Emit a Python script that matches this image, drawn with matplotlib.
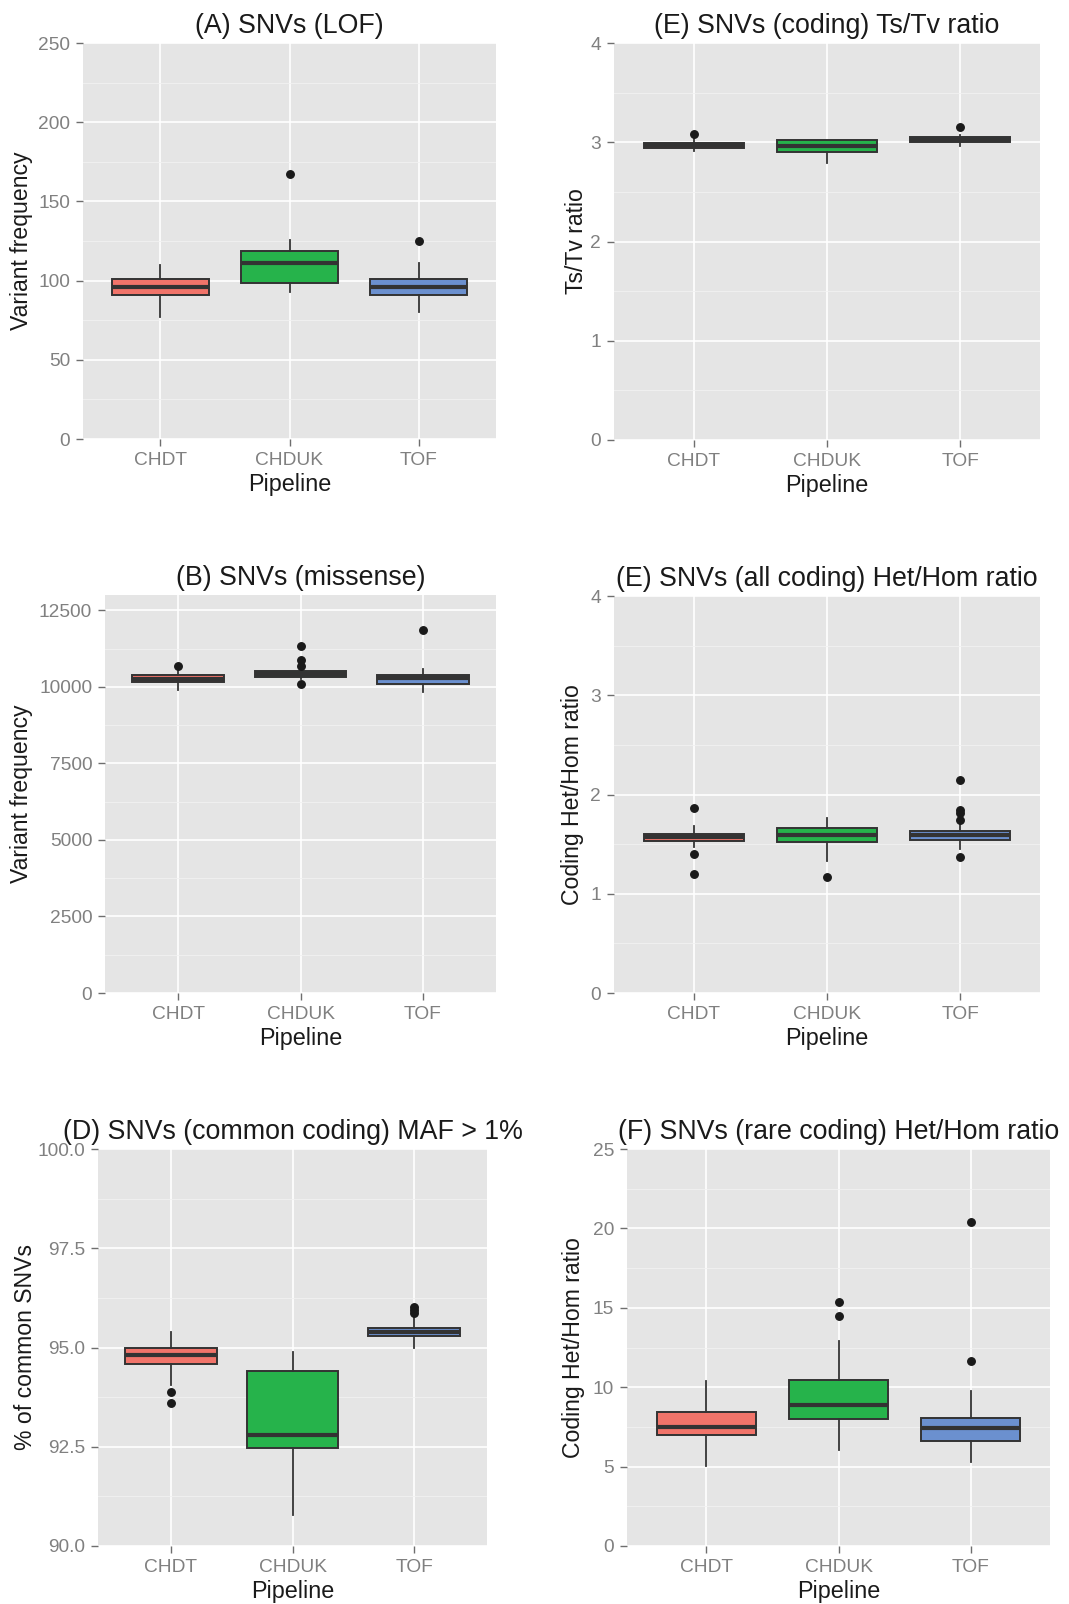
import matplotlib
matplotlib.use('Agg')
import matplotlib.pyplot as plt
import matplotlib.ticker as mticker

plt.rcParams['font.family'] = ['Liberation Sans', 'DejaVu Sans']

W, H = 1069, 1604
pipelines = ['CHDT', 'CHDUK', 'TOF']
fills = ['#F1746A', '#26B34B', '#6B90CF']

# per-panel box summaries: q1, median, q3, whisker low, whisker high, outliers
lof_q1 = [90.8, 98.7, 90.8]
lof_med = [95.8, 110.9, 96.2]
lof_q3 = [100.8, 118.5, 100.8]
lof_lo = [76.9, 93.1, 80.0]
lof_hi = [109.7, 125.6, 110.9]
lof_out = [[], [167.0], [125.0]]

tstv_q1 = [2.946, 2.903, 3.000]
tstv_med = [2.970, 2.963, 3.027]
tstv_q3 = [2.990, 3.020, 3.050]
tstv_lo = [2.910, 2.795, 2.960]
tstv_hi = [3.040, 3.020, 3.077]
tstv_out = [[3.087], [], [3.154]]

mis_q1 = [10144, 10329, 10089]
mis_med = [10264, 10417, 10297]
mis_q3 = [10384, 10504, 10373]
mis_lo = [9904, 10253, 9838]
mis_hi = [10504, 10558, 10591]
mis_out = [[10689], [11333, 10886, 10667, 10100], [11856]]

hh_q1 = [1.536, 1.519, 1.546]
hh_med = [1.570, 1.590, 1.590]
hh_q3 = [1.603, 1.664, 1.630]
hh_lo = [1.472, 1.331, 1.455]
hh_hi = [1.681, 1.768, 1.724]
hh_out = [[1.869, 1.398, 1.197], [1.166], [2.151, 1.842, 1.815, 1.748, 1.368]]

maf_q1 = [94.59, 92.46, 95.30]
maf_med = [94.80, 92.79, 95.40]
maf_q3 = [95.00, 94.415, 95.50]
maf_lo = [94.05, 90.79, 95.00]
maf_hi = [95.38, 94.88, 95.78]
maf_out = [[93.89, 93.59], [], [96.01, 95.95, 95.88]]

rare_q1 = [7.00, 8.00, 6.64]
rare_med = [7.52, 8.87, 7.42]
rare_q3 = [8.42, 10.46, 8.05]
rare_lo = [5.06, 6.07, 5.29]
rare_hi = [10.40, 12.92, 9.77]
rare_out = [[], [15.36, 14.47], [20.38, 11.66]]

# panel boxes in pixels: left, top, right, bottom; ylabel right edge
panels = [
    dict(px=(83, 43, 496, 439), ylab_x=33.5, title='(A) SNVs (LOF)',
         ylabel='Variant frequency', ylim=(0, 250), major=50,
         stats=(lof_q1, lof_med, lof_q3, lof_lo, lof_hi, lof_out), fmt='%d'),
    dict(px=(614, 43, 1040, 440), ylab_x=588, title='(E) SNVs (coding) Ts/Tv ratio',
         ylabel='Ts/Tv ratio', ylim=(0, 4), major=1,
         stats=(tstv_q1, tstv_med, tstv_q3, tstv_lo, tstv_hi, tstv_out), fmt='%d'),
    dict(px=(105, 595, 496, 993), ylab_x=33.5, title='(B) SNVs (missense)',
         ylabel='Variant frequency', ylim=(0, 13000), major=2500,
         stats=(mis_q1, mis_med, mis_q3, mis_lo, mis_hi, mis_out), fmt='%d'),
    dict(px=(614, 596, 1040, 993), ylab_x=584, title='(E) SNVs (all coding) Het/Hom ratio',
         ylabel='Coding Het/Hom ratio', ylim=(0, 4), major=1,
         stats=(hh_q1, hh_med, hh_q3, hh_lo, hh_hi, hh_out), fmt='%d'),
    dict(px=(98, 1149, 487, 1546), ylab_x=37, title='(D) SNVs (common coding) MAF > 1%',
         ylabel='% of common SNVs', ylim=(90, 100), major=2.5,
         stats=(maf_q1, maf_med, maf_q3, maf_lo, maf_hi, maf_out), fmt='%.1f'),
    dict(px=(627, 1149, 1050, 1546), ylab_x=585, title='(F) SNVs (rare coding) Het/Hom ratio',
         ylabel='Coding Het/Hom ratio', ylim=(0, 25), major=5,
         stats=(rare_q1, rare_med, rare_q3, rare_lo, rare_hi, rare_out), fmt='%d'),
]

fig = plt.figure(figsize=(W / 100, H / 100), dpi=100)
fig.patch.set_facecolor('white')

for p in panels:
    l, t, r, b = p['px']
    ax = fig.add_axes([l / W, 1 - b / H, (r - l) / W, (b - t) / H])
    ax.set_facecolor('#E5E5E5')
    for s in ax.spines.values():
        s.set_visible(False)

    q1, med, q3, lo, hi, out = p['stats']
    bstats = [dict(q1=q1[i], med=med[i], q3=q3[i], whislo=lo[i], whishi=hi[i],
                   fliers=out[i], label=pipelines[i]) for i in range(3)]
    bp = ax.bxp(bstats, positions=[1, 2, 3], widths=0.75, patch_artist=True,
                showcaps=False,
                boxprops=dict(edgecolor='#333333', linewidth=1.4),
                medianprops=dict(color='#333333', linewidth=3.0, solid_capstyle='butt'),
                whiskerprops=dict(color='#333333', linewidth=1.3),
                flierprops=dict(marker='o', markerfacecolor='#1A1A1A',
                                markeredgecolor='#1A1A1A', markersize=5.4))
    for patch, c in zip(bp['boxes'], fills):
        patch.set_facecolor(c)
        patch.set_zorder(3)
    for key in ('medians', 'whiskers', 'fliers'):
        for ln in bp[key]:
            ln.set_zorder(4)

    ax.set_xlim(0.4, 3.6)
    ax.set_ylim(*p['ylim'])
    ax.yaxis.set_major_locator(mticker.MultipleLocator(p['major']))
    ax.yaxis.set_minor_locator(mticker.AutoMinorLocator(2))
    ax.yaxis.set_major_formatter(mticker.FormatStrFormatter(p['fmt']))
    ax.set_axisbelow(True)
    ax.grid(True, which='major', color='white', linewidth=1.2)
    ax.grid(True, which='minor', axis='y', color='#F2F2F2', linewidth=0.6)

    ax.tick_params(axis='both', which='major', length=5, width=1, color='#6E6E6E',
                   labelcolor='#808080', labelsize=13.8, pad=4.2)
    ax.tick_params(axis='y', which='minor', length=0)

    ax.set_title(p['title'], fontsize=19.3, color='#1A1A1A', pad=7)
    ax.set_xlabel('Pipeline', fontsize=16.8, color='#1A1A1A', labelpad=3)
    ax.set_ylabel(p['ylabel'], fontsize=16.6, color='#1A1A1A')
    ax.yaxis.set_label_coords((p['ylab_x'] - l) / (r - l), 0.5)

plt.savefig('out.png', dpi=100, facecolor='white')
